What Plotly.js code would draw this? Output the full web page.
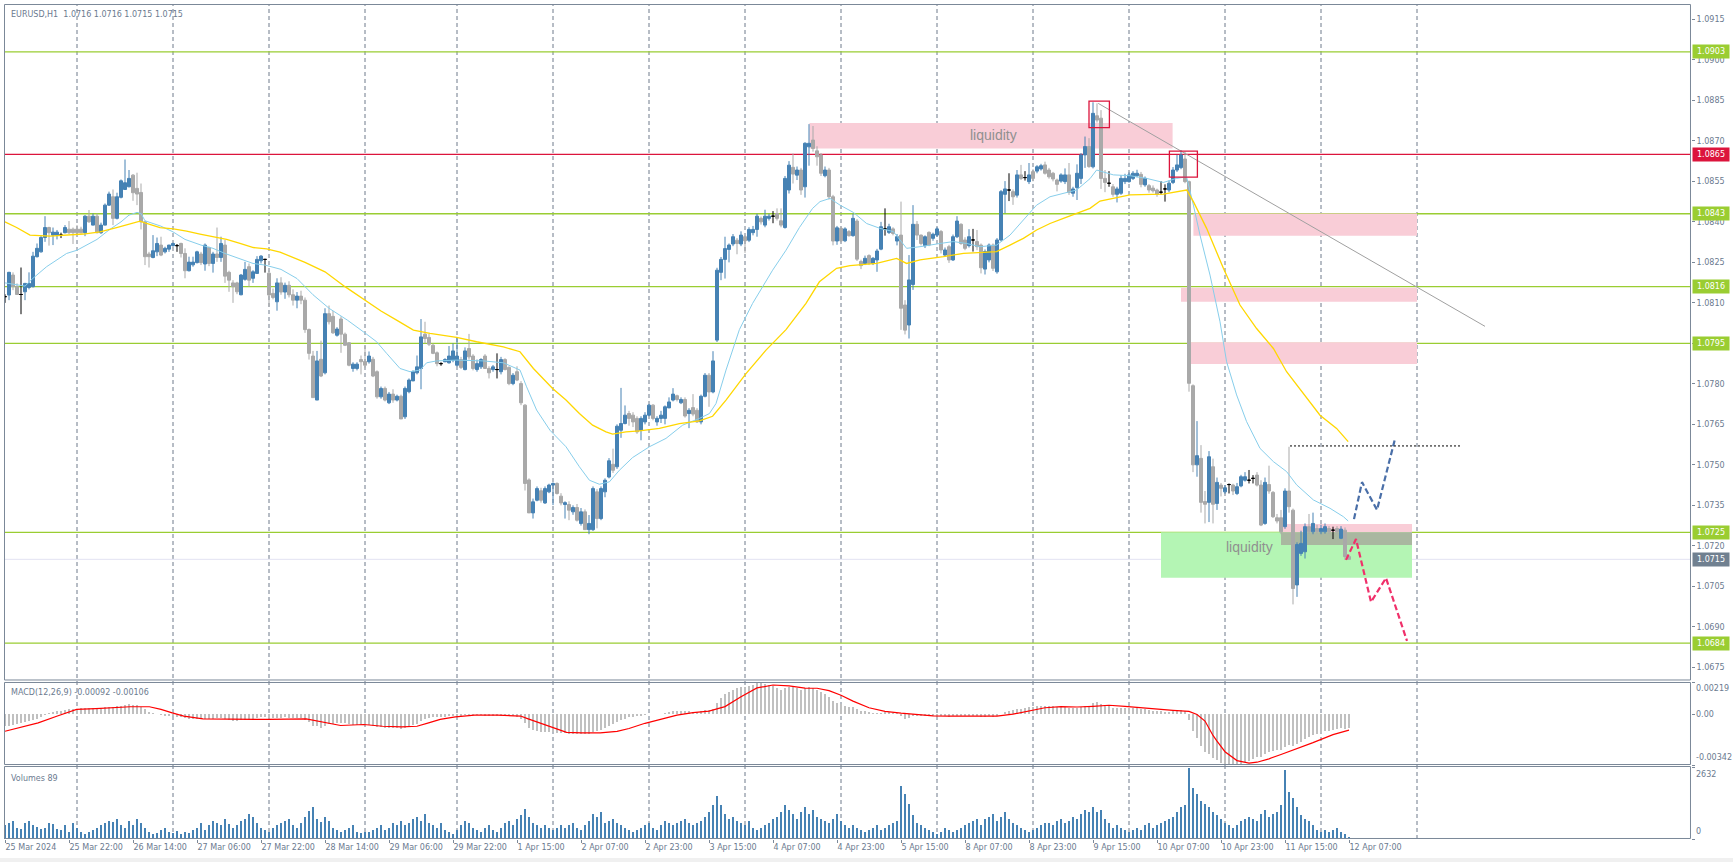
<!DOCTYPE html>
<html><head><meta charset="utf-8">
<script src="https://cdn.plot.ly/plotly-3.0.1.min.js"></script>
<style>html,body{margin:0;padding:0;background:#fff;overflow:hidden}#chart{width:1733px;height:862px}</style>
</head><body><div id="chart"></div>
<script>
// ---------- DATA (EURUSD H1, one entry per bar, bar 0 = 25 Mar 2024 06:00) ----------
const open = [
1.08123,1.08129,1.08203,1.08160,1.08131,1.08141,1.08157,1.08160,1.08271,1.08289,
1.08342,1.08379,1.08351,1.08351,1.08351,1.08360,1.08373,1.08373,1.08373,1.08373,
1.08360,1.08421,1.08388,1.08421,1.08360,1.08388,1.08462,1.08493,1.08413,1.08491,
1.08520,1.08530,1.08573,1.08524,1.08509,1.08400,1.08281,1.08268,1.08289,1.08314,
1.08289,1.08299,1.08312,1.08312,1.08320,1.08283,1.08219,1.08241,1.08249,1.08281,
1.08244,1.08305,1.08246,1.08281,1.08268,1.08314,1.08213,1.08174,1.08174,1.08130,
1.08187,1.08234,1.08191,1.08209,1.08256,1.08261,1.08210,1.08135,1.08104,1.08174,
1.08140,1.08165,1.08130,1.08110,1.08125,1.08110,1.08001,1.07903,1.07740,1.07891,
1.07841,1.08060,1.08050,1.07980,1.08040,1.07984,1.07952,1.07857,1.07857,1.07890,
1.07883,1.07882,1.07891,1.07845,1.07752,1.07783,1.07730,1.07762,1.07740,1.07754,
1.07678,1.07771,1.07811,1.07841,1.07857,1.07984,1.07972,1.07943,1.07915,1.07875,
1.07882,1.07878,1.07888,1.07869,1.07890,1.07853,1.07931,1.07903,1.07853,1.07863,
1.07903,1.07857,1.07853,1.07853,1.07845,1.07890,1.07861,1.07801,1.07845,1.07801,
1.07721,1.07444,1.07322,1.07369,1.07404,1.07359,1.07400,1.07425,1.07431,1.07384,
1.07353,1.07353,1.07326,1.07342,1.07283,1.07326,1.07260,1.07260,1.07400,1.07301,
1.07400,1.07455,1.07502,1.07493,1.07628,1.07653,1.07690,1.07684,1.07672,1.07628,
1.07659,1.07684,1.07721,1.07659,1.07672,1.07672,1.07711,1.07740,1.07756,1.07730,
1.07742,1.07690,1.07712,1.07702,1.07659,1.07754,1.07832,1.07770,1.07962,1.08213,
1.08261,1.08298,1.08318,1.08332,1.08318,1.08345,1.08332,1.08360,1.08372,1.08413,
1.08388,1.08413,1.08421,1.08431,1.08404,1.08379,1.08518,1.08602,1.08573,1.08592,
1.08530,1.08678,1.08703,1.08663,1.08648,1.08571,1.08592,1.08493,1.08329,1.08376,
1.08330,1.08364,1.08349,1.08403,1.08253,1.08246,1.08275,1.08246,1.08259,1.08299,
1.08374,1.08361,1.08374,1.08329,1.08351,1.08092,1.08018,1.08168,1.08391,1.08351,
1.08312,1.08361,1.08339,1.08351,1.08364,1.08277,1.08308,1.08259,1.08345,1.08391,
1.08333,1.08312,1.08333,1.08327,1.08314,1.08225,1.08259,1.08314,1.08215,1.08333,
1.08502,1.08518,1.08512,1.08499,1.08574,1.08564,1.08549,1.08586,1.08588,1.08596,
1.08611,1.08592,1.08580,1.08555,1.08551,1.08549,1.08574,1.08506,1.08527,1.08561,
1.08648,1.08679,1.08604,1.08793,1.08784,1.08561,1.08543,1.08530,1.08502,1.08506,
1.08549,1.08549,1.08561,1.08571,1.08576,1.08537,1.08534,1.08525,1.08518,1.08510,
1.08522,1.08518,1.08546,1.08592,1.08601,1.08633,1.08549,1.07793,1.07500,1.07524,
1.07364,1.07361,1.07493,1.07357,1.07425,1.07400,1.07427,1.07425,1.07394,1.07422,
1.07443,1.07443,1.07450,1.07462,1.07425,1.07283,1.07427,1.07398,1.07304,1.07304,
1.07271,1.07403,1.07332,1.07055,1.07172,1.07178,1.07271,1.07252,1.07264,1.07252,
1.07252,1.07264,1.07258,1.07264,1.07228,1.07258,1.07160];
const high = [
1.08132,1.08215,1.08213,1.08172,1.08231,1.08174,1.08213,1.08289,1.08320,1.08351,
1.08421,1.08382,1.08379,1.08370,1.08360,1.08388,1.08403,1.08379,1.08388,1.08382,
1.08425,1.08444,1.08431,1.08431,1.08397,1.08468,1.08512,1.08520,1.08508,1.08557,
1.08631,1.08592,1.08577,1.08582,1.08542,1.08404,1.08289,1.08351,1.08342,1.08345,
1.08308,1.08315,1.08323,1.08318,1.08323,1.08302,1.08271,1.08271,1.08293,1.08289,
1.08320,1.08308,1.08289,1.08379,1.08345,1.08333,1.08219,1.08184,1.08178,1.08207,
1.08252,1.08246,1.08221,1.08273,1.08277,1.08263,1.08220,1.08153,1.08191,1.08195,
1.08175,1.08180,1.08150,1.08140,1.08145,1.08120,1.08005,1.07922,1.07922,1.07960,
1.08080,1.08090,1.08070,1.08010,1.08050,1.07990,1.07955,1.07880,1.07880,1.07905,
1.07940,1.07920,1.07900,1.07850,1.07790,1.07790,1.07770,1.07780,1.07760,1.07760,
1.07790,1.07820,1.07850,1.07905,1.08040,1.08030,1.07985,1.07950,1.07920,1.07880,
1.07895,1.07940,1.07950,1.07970,1.07900,1.07935,1.07985,1.07910,1.07890,1.07895,
1.07910,1.07865,1.07870,1.07913,1.07900,1.07895,1.07865,1.07840,1.07865,1.07810,
1.07725,1.07450,1.07375,1.07420,1.07415,1.07420,1.07430,1.07435,1.07435,1.07395,
1.07365,1.07365,1.07350,1.07355,1.07340,1.07335,1.07314,1.07420,1.07410,1.07420,
1.07450,1.07525,1.07560,1.07650,1.07785,1.07720,1.07700,1.07695,1.07680,1.07680,
1.07695,1.07725,1.07725,1.07680,1.07700,1.07720,1.07750,1.07784,1.07760,1.07750,
1.07750,1.07710,1.07762,1.07710,1.07760,1.07840,1.07840,1.07921,1.08230,1.08270,
1.08345,1.08320,1.08355,1.08340,1.08365,1.08350,1.08380,1.08385,1.08430,1.08420,
1.08445,1.08430,1.08440,1.08450,1.08450,1.08570,1.08625,1.08653,1.08605,1.08600,
1.08695,1.08762,1.08755,1.08680,1.08655,1.08605,1.08600,1.08500,1.08385,1.08382,
1.08380,1.08370,1.08430,1.08410,1.08260,1.08275,1.08280,1.08270,1.08300,1.08400,
1.08450,1.08393,1.08380,1.08355,1.08475,1.08110,1.08277,1.08462,1.08403,1.08353,
1.08350,1.08365,1.08360,1.08380,1.08370,1.08305,1.08315,1.08353,1.08421,1.08395,
1.08343,1.08373,1.08374,1.08370,1.08320,1.08298,1.08320,1.08320,1.08340,1.08518,
1.08551,1.08580,1.08520,1.08592,1.08611,1.08588,1.08618,1.08595,1.08610,1.08615,
1.08623,1.08600,1.08585,1.08560,1.08580,1.08598,1.08618,1.08530,1.08613,1.08655,
1.08716,1.08710,1.08843,1.08839,1.08814,1.08592,1.08588,1.08540,1.08530,1.08573,
1.08578,1.08583,1.08588,1.08593,1.08585,1.08568,1.08540,1.08535,1.08523,1.08551,
1.08539,1.08553,1.08603,1.08648,1.08666,1.08660,1.08553,1.07798,1.07662,1.07573,
1.07403,1.07551,1.07523,1.07453,1.07433,1.07425,1.07431,1.07430,1.07433,1.07463,
1.07473,1.07481,1.07462,1.07473,1.07443,1.07453,1.07497,1.07403,1.07318,1.07333,
1.07413,1.07567,1.07338,1.07213,1.07256,1.07283,1.07318,1.07323,1.07278,1.07278,
1.07283,1.07273,1.07271,1.07273,1.07273,1.07268,1.07160];
const low = [
1.08100,1.08110,1.08147,1.08129,1.08058,1.08110,1.08150,1.08157,1.08268,1.08286,
1.08326,1.08312,1.08314,1.08335,1.08340,1.08357,1.08355,1.08318,1.08351,1.08357,
1.08347,1.08397,1.08387,1.08357,1.08355,1.08387,1.08459,1.08388,1.08409,1.08487,
1.08518,1.08528,1.08478,1.08462,1.08372,1.08240,1.08231,1.08265,1.08273,1.08273,
1.08283,1.08289,1.08308,1.08289,1.08268,1.08191,1.08216,1.08234,1.08246,1.08240,
1.08219,1.08236,1.08212,1.08252,1.08252,1.08174,1.08141,1.08100,1.08132,1.08128,
1.08182,1.08160,1.08174,1.08207,1.08246,1.08212,1.08086,1.08113,1.08071,1.08130,
1.08115,1.08120,1.08090,1.08080,1.08095,1.07989,1.07890,1.07749,1.07740,1.07825,
1.07835,1.08020,1.07985,1.07975,1.07915,1.07940,1.07865,1.07845,1.07850,1.07835,
1.07860,1.07875,1.07825,1.07745,1.07745,1.07735,1.07725,1.07730,1.07735,1.07670,
1.07670,1.07765,1.07810,1.07835,1.07780,1.07950,1.07940,1.07910,1.07865,1.07867,
1.07880,1.07875,1.07880,1.07865,1.07855,1.07850,1.07890,1.07850,1.07845,1.07855,
1.07855,1.07820,1.07845,1.07820,1.07835,1.07850,1.07795,1.07795,1.07810,1.07721,
1.07405,1.07322,1.07301,1.07365,1.07360,1.07355,1.07395,1.07351,1.07390,1.07350,
1.07301,1.07295,1.07315,1.07290,1.07275,1.07260,1.07243,1.07255,1.07265,1.07295,
1.07380,1.07450,1.07470,1.07485,1.07600,1.07650,1.07645,1.07640,1.07615,1.07591,
1.07650,1.07680,1.07665,1.07645,1.07655,1.07650,1.07710,1.07735,1.07735,1.07725,
1.07675,1.07636,1.07680,1.07655,1.07650,1.07750,1.07715,1.07765,1.07955,1.08184,
1.08190,1.08250,1.08310,1.08280,1.08310,1.08285,1.08325,1.08350,1.08345,1.08390,
1.08380,1.08405,1.08395,1.08405,1.08380,1.08375,1.08505,1.08542,1.08555,1.08500,
1.08490,1.08608,1.08660,1.08608,1.08570,1.08565,1.08483,1.08313,1.08315,1.08325,
1.08325,1.08345,1.08345,1.08255,1.08225,1.08240,1.08240,1.08240,1.08215,1.08295,
1.08349,1.08355,1.08350,1.08313,1.08000,1.07983,1.07968,1.08148,1.08333,1.08313,
1.08303,1.08310,1.08330,1.08345,1.08283,1.08271,1.08248,1.08255,1.08340,1.08315,
1.08295,1.08305,1.08290,1.08295,1.08209,1.08205,1.08250,1.08218,1.08208,1.08328,
1.08432,1.08477,1.08463,1.08490,1.08555,1.08553,1.08540,1.08550,1.08580,1.08590,
1.08575,1.08560,1.08550,1.08513,1.08545,1.08540,1.08500,1.08493,1.08481,1.08540,
1.08600,1.08600,1.08598,1.08768,1.08522,1.08510,1.08530,1.08493,1.08472,1.08500,
1.08540,1.08545,1.08555,1.08565,1.08528,1.08530,1.08508,1.08508,1.08493,1.08502,
1.08475,1.08510,1.08540,1.08585,1.08595,1.08543,1.07771,1.07473,1.07456,1.07323,
1.07283,1.07288,1.07283,1.07333,1.07383,1.07393,1.07394,1.07388,1.07388,1.07417,
1.07438,1.07431,1.07431,1.07420,1.07273,1.07278,1.07393,1.07303,1.07283,1.07243,
1.07263,1.07323,1.06983,1.07011,1.07163,1.07153,1.07245,1.07243,1.07245,1.07243,
1.07245,1.07245,1.07225,1.07245,1.07225,1.07148,1.07150];
const close = [
1.08123,1.08213,1.08160,1.08131,1.08131,1.08172,1.08172,1.08273,1.08302,1.08342,
1.08379,1.08360,1.08362,1.08362,1.08351,1.08379,1.08360,1.08360,1.08360,1.08360,
1.08421,1.08400,1.08421,1.08360,1.08388,1.08462,1.08503,1.08413,1.08493,1.08552,
1.08545,1.08561,1.08508,1.08503,1.08400,1.08271,1.08271,1.08293,1.08320,1.08277,
1.08302,1.08314,1.08320,1.08312,1.08283,1.08219,1.08251,1.08251,1.08289,1.08249,
1.08314,1.08246,1.08281,1.08268,1.08320,1.08199,1.08184,1.08160,1.08141,1.08203,
1.08224,1.08184,1.08215,1.08261,1.08273,1.08261,1.08129,1.08120,1.08174,1.08140,
1.08165,1.08130,1.08110,1.08125,1.08110,1.08001,1.07913,1.07749,1.07885,1.07829,
1.08060,1.08030,1.07989,1.08003,1.07984,1.07943,1.07869,1.07873,1.07873,1.07882,
1.07869,1.07903,1.07829,1.07752,1.07783,1.07740,1.07762,1.07740,1.07754,1.07670,
1.07783,1.07814,1.07845,1.07863,1.07974,1.07968,1.07947,1.07913,1.07875,1.07875,
1.07890,1.07903,1.07922,1.07903,1.07861,1.07922,1.07900,1.07857,1.07875,1.07890,
1.07857,1.07841,1.07863,1.07853,1.07890,1.07853,1.07801,1.07832,1.07814,1.07730,
1.07431,1.07322,1.07363,1.07412,1.07369,1.07412,1.07425,1.07431,1.07394,1.07359,
1.07360,1.07332,1.07342,1.07295,1.07326,1.07260,1.07283,1.07412,1.07301,1.07412,
1.07443,1.07515,1.07480,1.07643,1.07653,1.07684,1.07672,1.07659,1.07622,1.07672,
1.07684,1.07721,1.07672,1.07672,1.07684,1.07715,1.07733,1.07762,1.07742,1.07742,
1.07681,1.07702,1.07688,1.07659,1.07754,1.07832,1.07770,1.07885,1.08221,1.08261,
1.08301,1.08314,1.08345,1.08320,1.08351,1.08330,1.08372,1.08372,1.08421,1.08400,
1.08421,1.08421,1.08421,1.08413,1.08388,1.08561,1.08610,1.08577,1.08592,1.08518,
1.08691,1.08691,1.08672,1.08641,1.08580,1.08592,1.08493,1.08329,1.08378,1.08330,
1.08374,1.08349,1.08413,1.08262,1.08238,1.08265,1.08246,1.08265,1.08292,1.08382,
1.08374,1.08382,1.08357,1.08345,1.08080,1.07999,1.08185,1.08391,1.08351,1.08320,
1.08345,1.08314,1.08354,1.08374,1.08296,1.08296,1.08259,1.08345,1.08403,1.08320,
1.08302,1.08345,1.08333,1.08308,1.08230,1.08290,1.08314,1.08228,1.08333,1.08512,
1.08522,1.08518,1.08493,1.08574,1.08561,1.08564,1.08574,1.08561,1.08604,1.08608,
1.08580,1.08567,1.08559,1.08539,1.08574,1.08574,1.08509,1.08522,1.08580,1.08648,
1.08679,1.08605,1.08802,1.08777,1.08561,1.08546,1.08543,1.08502,1.08522,1.08561,
1.08561,1.08574,1.08580,1.08580,1.08539,1.08561,1.08518,1.08515,1.08502,1.08510,
1.08522,1.08543,1.08592,1.08611,1.08648,1.08549,1.07802,1.07500,1.07534,1.07361,
1.07354,1.07530,1.07354,1.07435,1.07413,1.07415,1.07427,1.07403,1.07419,1.07456,
1.07456,1.07443,1.07450,1.07425,1.07277,1.07435,1.07403,1.07308,1.07292,1.07252,
1.07403,1.07345,1.07042,1.07205,1.07209,1.07271,1.07252,1.07283,1.07252,1.07264,
1.07271,1.07252,1.07258,1.07252,1.07262,1.07160,1.07150];

// moving averages (bar position, price)
const maFastX = [0,5,7,10.4,15.4,18,23,26,29,31,33,34,35,39,42,45,49,52,55,59,62,65,69,73,77,81,85.6,90.4,92.9,95.4,98.75,101.25,103.75,105.4,107.9,112.9,119.6,124.6,128.75,130.4,132.9,136.25,140.25,143.6,146.1,148.6,151.1,153.6,156.9,161.1,165.25,169.4,173.6,176.1,177.75,180.25,183.6,186.9,191.9,195.25,198.6,201.9,203.75,206.25,208.75,212.1,215.4,218.75,222.1,225.4,228.75,233.75,237.1,240.4,243.75,247.9,251.25,254.6,257.9,261.25,264.6,267.9,271.25,272.9,277.1,281.25,285.4,289.6,292.9,295.4,297.1,298.75,301.25,303.75,305.4,307.9,310.4,313.75,317.1,320.4,322.9,327.1,331.25,334.6,335.8];
const maFastY = [1.08174,1.08162,1.08191,1.08234,1.08283,1.08295,1.08335,1.08370,1.08400,1.08425,1.08435,1.08431,1.08404,1.08384,1.08363,1.08335,1.08314,1.08302,1.08283,1.08261,1.08246,1.08240,1.08224,1.08190,1.08130,1.08080,1.08036,1.07984,1.07956,1.07913,1.07857,1.07845,1.07851,1.07878,1.07885,1.07888,1.07885,1.07878,1.07851,1.07789,1.07703,1.07628,1.07567,1.07493,1.07443,1.07428,1.07437,1.07480,1.07527,1.07567,1.07598,1.07647,1.07672,1.07690,1.07727,1.07851,1.08001,1.08098,1.08221,1.08295,1.08379,1.08450,1.08475,1.08487,1.08462,1.08435,1.08394,1.08376,1.08364,1.08302,1.08308,1.08320,1.08327,1.08320,1.08308,1.08314,1.08351,1.08407,1.08462,1.08493,1.08506,1.08518,1.08560,1.08592,1.08574,1.08571,1.08561,1.08546,1.08561,1.08567,1.08462,1.08351,1.08203,1.08030,1.07882,1.07759,1.07660,1.07561,1.07512,1.07475,1.07426,1.07370,1.07339,1.07308,1.07292];
const maSlowX = [0,2.9,6.25,11.25,19.6,23.75,27.9,32.1,33.75,35.4,38.75,42.1,45.4,48.75,52.1,55.4,58.75,62.1,65.4,68.75,75,80,85,90,94,97.9,102.1,106.25,112.9,117.9,124.6,128.75,132.1,136.9,140.25,143.6,146.9,150.25,151.9,155.25,158.6,163.6,168.6,173.6,176.9,180.25,185.25,190.25,195.25,200.25,203.6,207.9,211.25,217.9,222.9,225.4,228.75,234.6,239.6,244.6,247.9,251.25,254.6,257.9,261.25,264.6,267.9,271.25,273.75,281.25,289.6,293.75,295.4,297.1,300.4,304.6,308.75,312.9,317.1,320.4,325.4,328.75,332.9,335.8];
const maSlowY = [1.08400,1.08379,1.08351,1.08347,1.08355,1.08363,1.08379,1.08397,1.08403,1.08394,1.08379,1.08374,1.08366,1.08355,1.08345,1.08335,1.08320,1.08305,1.08300,1.08288,1.08250,1.08215,1.08160,1.08110,1.08070,1.08036,1.07999,1.07987,1.07972,1.07956,1.07937,1.07919,1.07857,1.07783,1.07740,1.07690,1.07647,1.07622,1.07614,1.07622,1.07626,1.07635,1.07653,1.07663,1.07680,1.07740,1.07838,1.07925,1.08001,1.08098,1.08178,1.08228,1.08238,1.08246,1.08265,1.08246,1.08259,1.08271,1.08283,1.08287,1.08290,1.08314,1.08339,1.08370,1.08394,1.08413,1.08432,1.08450,1.08477,1.08500,1.08503,1.08512,1.08518,1.08475,1.08376,1.08228,1.08092,1.08005,1.07931,1.07845,1.07746,1.07684,1.07635,1.07586];

// MACD(12,26,9) main histogram, one value per bar
const macdMain = [
-0.00080,-0.00075,-0.00070,-0.00065,-0.00058,-0.00052,-0.00046,-0.00038,-0.00030,-0.00015,
-0.00002,0.00008,0.00014,0.00020,0.00025,0.00030,0.00034,0.00037,0.00040,0.00042,
0.00044,0.00046,0.00046,0.00045,0.00046,0.00048,0.00052,0.00052,0.00054,0.00060,
0.00066,0.00068,0.00066,0.00062,0.00052,0.00034,0.00018,0.00010,0.00004,-0.00004,
-0.00008,-0.00010,-0.00012,-0.00015,-0.00018,-0.00026,-0.00030,-0.00033,-0.00032,-0.00034,
-0.00028,-0.00030,-0.00028,-0.00026,-0.00022,-0.00028,-0.00035,-0.00042,-0.00045,-0.00040,
-0.00036,-0.00036,-0.00033,-0.00025,-0.00018,-0.00016,-0.00022,-0.00025,-0.00022,-0.00022,
-0.00020,-0.00021,-0.00023,-0.00022,-0.00023,-0.00035,-0.00052,-0.00075,-0.00080,-0.00095,
-0.00078,-0.00065,-0.00062,-0.00058,-0.00058,-0.00060,-0.00066,-0.00070,-0.00072,-0.00072,
-0.00074,-0.00072,-0.00076,-0.00084,-0.00086,-0.00090,-0.00091,-0.00092,-0.00092,-0.00098,
-0.00092,-0.00084,-0.00074,-0.00064,-0.00045,-0.00032,-0.00024,-0.00020,-0.00018,-0.00017,
-0.00015,-0.00012,-0.00010,-0.00009,-0.00010,-0.00006,-0.00005,-0.00007,-0.00007,-0.00006,
-0.00008,-0.00010,-0.00010,-0.00010,-0.00008,-0.00010,-0.00014,-0.00014,-0.00018,-0.00028,
-0.00058,-0.00090,-0.00105,-0.00110,-0.00118,-0.00120,-0.00121,-0.00122,-0.00124,-0.00127,
-0.00128,-0.00130,-0.00130,-0.00132,-0.00130,-0.00133,-0.00132,-0.00118,-0.00115,-0.00102,
-0.00090,-0.00075,-0.00068,-0.00050,-0.00038,-0.00028,-0.00020,-0.00016,-0.00014,-0.00008,
-0.00004,0.00002,0.00002,0.00003,0.00005,0.00010,0.00015,0.00020,0.00022,0.00024,
0.00020,0.00020,0.00018,0.00014,0.00020,0.00030,0.00030,0.00040,0.00080,0.00112,
0.00136,0.00152,0.00168,0.00176,0.00184,0.00186,0.00192,0.00200,0.00219,0.00212,
0.00206,0.00198,0.00190,0.00180,0.00168,0.00176,0.00186,0.00184,0.00180,0.00166,
0.00176,0.00182,0.00176,0.00166,0.00150,0.00136,0.00118,0.00094,0.00080,0.00068,
0.00060,0.00052,0.00050,0.00036,0.00026,0.00020,0.00014,0.00010,0.00008,0.00012,
0.00014,0.00014,0.00012,0.00008,-0.00008,-0.00028,-0.00025,-0.00010,-0.00008,-0.00010,
-0.00010,-0.00012,-0.00010,-0.00008,-0.00012,-0.00014,-0.00018,-0.00014,-0.00008,-0.00010,
-0.00012,-0.00010,-0.00010,-0.00012,-0.00018,-0.00016,-0.00014,-0.00018,-0.00012,0.00005,
0.00018,0.00025,0.00028,0.00036,0.00040,0.00044,0.00048,0.00050,0.00054,0.00058,
0.00058,0.00056,0.00054,0.00050,0.00050,0.00050,0.00044,0.00042,0.00044,0.00052,
0.00060,0.00060,0.00074,0.00082,0.00072,0.00062,0.00055,0.00046,0.00042,0.00042,
0.00042,0.00042,0.00042,0.00042,0.00036,0.00034,0.00030,0.00026,0.00022,0.00020,
0.00018,0.00018,0.00022,0.00026,0.00032,0.00026,-0.00040,-0.00110,-0.00160,-0.00215,
-0.00255,-0.00265,-0.00295,-0.00310,-0.00325,-0.00335,-0.00340,-0.00342,-0.00340,-0.00332,
-0.00322,-0.00312,-0.00300,-0.00288,-0.00288,-0.00268,-0.00255,-0.00248,-0.00242,-0.00238,
-0.00218,-0.00205,-0.00215,-0.00198,-0.00185,-0.00166,-0.00155,-0.00142,-0.00132,-0.00124,
-0.00115,-0.00109,-0.00104,-0.00099,-0.00094,-0.00096,-0.00092];
// signal line (bar position, value)
const macdSignalX = [0,3.5,8.3,13.1,16,17.9,22.7,27.5,31.3,36.1,39,41.8,44.7,49.5,60,65.7,75.3,77.2,81,83.9,89.7,94.4,99.2,103,105.9,108.8,112.6,117.4,123.2,128.9,130.8,134.6,138.5,140.4,144.2,148.8,153,156,160,164,168,172,176,180,184,188,192,196,200,203,206,209,212,216,220,224,228,232,236,240,244,248,252,256,260,264,268,272,276,280,284,288,292,296,298,300,302,303,305,308,311,313,316,319,323,327,332,336];
const macdSignalY = [-0.00114,-0.00091,-0.00057,-0.00011,0.00016,0.00034,0.00039,0.00046,0.00052,0.00052,0.00034,0.00010,-0.00011,-0.00030,-0.00034,-0.00034,-0.00030,-0.00039,-0.00057,-0.00075,-0.00068,-0.00080,-0.00084,-0.00080,-0.00057,-0.00034,-0.00016,-0.00005,-0.00005,-0.00011,-0.00030,-0.00068,-0.00103,-0.00121,-0.00125,-0.00125,-0.00115,-0.00095,-0.00060,-0.00030,-0.00005,0.00012,0.00022,0.00053,0.00120,0.00179,0.00199,0.00193,0.00178,0.00177,0.00161,0.00130,0.00090,0.00045,0.00021,0.00009,-0.00003,-0.00010,-0.00011,-0.00012,-0.00012,-0.00012,0.00002,0.00025,0.00045,0.00053,0.00050,0.00055,0.00062,0.00055,0.00044,0.00036,0.00027,0.00020,0.00000,-0.00045,-0.00142,-0.00180,-0.00252,-0.00312,-0.00329,-0.00323,-0.00300,-0.00271,-0.00232,-0.00191,-0.00137,-0.00106];

// tick volume, one value per bar
const volumes = [
500,580,670,420,380,580,670,500,460,380,
420,580,540,380,330,500,250,580,420,250,
170,250,330,420,500,580,670,630,750,500,
420,670,500,750,580,420,250,170,210,330,
420,250,210,290,170,250,210,330,420,580,
330,500,670,580,500,750,540,420,500,670,
750,920,830,580,420,330,250,420,500,580,
670,750,500,420,580,830,1050,1170,750,630,
830,670,420,330,250,330,420,500,250,210,
250,250,330,420,500,330,420,580,500,670,
500,580,750,830,670,920,580,500,420,580,
330,250,170,330,500,670,580,420,330,250,
420,500,330,250,420,580,670,500,750,900,
1100,830,580,500,420,500,420,330,420,500,
420,500,580,420,330,500,670,920,830,1000,
580,670,750,580,500,420,330,250,330,420,
500,580,420,330,500,670,580,500,580,670,
750,580,500,580,670,830,1000,1250,1590,1250,
920,750,830,670,580,500,670,420,330,420,
500,580,750,830,1000,1250,1090,920,750,1000,
1170,920,1090,830,750,670,580,750,920,670,
500,420,500,420,330,250,330,420,500,330,
420,500,580,670,1950,1650,1300,900,580,500,
420,330,250,170,250,420,330,250,330,420,
500,580,670,750,500,750,830,920,670,830,
1000,750,580,500,420,330,250,330,420,500,
580,580,500,670,750,580,670,830,750,920,
1090,1000,1170,1000,1090,750,580,420,500,420,
330,250,330,420,330,500,580,420,500,580,
670,750,830,1000,1170,1250,2632,1900,1650,1400,
1300,1200,1000,900,750,580,500,420,500,670,
750,830,750,670,920,1090,830,920,1000,1250,
2550,1750,1500,1200,900,750,670,500,330,250,
330,250,330,420,250,170,89];

// scenario paths drawn on the chart (bar position, price)
const bullPathX = [337.25,339.25,343,347.5];
const bullPathY = [1.07299,1.07436,1.07333,1.07596];
const bearPathX = [335.25,337.75,341.5,345.25,350.5];
const bearPathY = [1.07148,1.07225,1.06992,1.07081,1.06848];

// axis labels
const timeTickBars = [0,16,32,48,64,80,96,112,128,144,160,176,192,208,224,240,256,272,288,304,320,336];
const timeTickLabels = ["25 Mar 2024","25 Mar 22:00","26 Mar 14:00","27 Mar 06:00","27 Mar 22:00","28 Mar 14:00","29 Mar 06:00","29 Mar 22:00","1 Apr 15:00","2 Apr 07:00","2 Apr 23:00","3 Apr 15:00","4 Apr 07:00","4 Apr 23:00","5 Apr 15:00","8 Apr 07:00","8 Apr 23:00","9 Apr 15:00","10 Apr 07:00","10 Apr 23:00","11 Apr 15:00","12 Apr 07:00"];
const priceTicks = [1.0675,1.0690,1.0705,1.0720,1.0735,1.0750,1.0765,1.0780,1.0795,1.0810,1.0825,1.0840,1.0855,1.0870,1.0885,1.0900,1.0915];
const daySeparatorBars = [18,42,66,90,113,137,161,185,209,233,257,281,305,329,353];
const greenLevels = [1.0903,1.0843,1.0816,1.0795,1.0725,1.0684];
const redLevel = 1.0865;
const lastPrice = 1.0715;
const macdScale = [0.00219,0,-0.00342];
const macdScaleLabels = ["0.00219","0.00","-0.00342"];
const volumeScale = [0,2632];
const volumeScaleLabels = ["0","2632"];

// ---------- BUILD ----------
const bars = open.map((_, i) => i);
function pick(cond){
  const r = {x:[],open:[],high:[],low:[],close:[]};
  bars.forEach(i => { if (cond(i)) { r.x.push(i); r.open.push(open[i]); r.high.push(high[i]); r.low.push(low[i]); r.close.push(close[i]); } });
  return r;
}
function candle(sub, col){
  return Object.assign({type:'candlestick', xaxis:'x', yaxis:'y', hoverinfo:'skip',
    increasing:{line:{color:col,width:1}, fillcolor:col},
    decreasing:{line:{color:col,width:1}, fillcolor:col}, whiskerwidth:0}, sub);
}
const FONT = 'DejaVu Sans, Verdana, sans-serif';
const AXC = '#6b7a8f';
const FRAME = '#7b8898';

const traces = [
  candle(pick(i => close[i] > open[i]), '#4682b4'),
  candle(pick(i => close[i] < open[i]), '#a9a9a9'),
  candle(pick(i => close[i] === open[i]), '#000000'),
  {type:'scatter', mode:'lines', x:maFastX, y:maFastY, line:{color:'#87ceeb', width:1}, hoverinfo:'skip'},
  {type:'scatter', mode:'lines', x:maSlowX, y:maSlowY, line:{color:'#ffd700', width:1.3}, hoverinfo:'skip'},
  {type:'scatter', mode:'lines', x:bullPathX, y:bullPathY, line:{color:'#4a6fa8', width:2.2, dash:'6px,3px'}, hoverinfo:'skip'},
  {type:'scatter', mode:'lines', x:bearPathX, y:bearPathY, line:{color:'#f0306a', width:2.2, dash:'6px,3px'}, hoverinfo:'skip'},
  {type:'bar', x:bars, y:macdMain, xaxis:'x', yaxis:'y2', marker:{color:'#c0c0c0', line:{width:0}}, width:0.72, hoverinfo:'skip'},
  {type:'scatter', mode:'lines', x:macdSignalX, y:macdSignalY, xaxis:'x', yaxis:'y2', line:{color:'#ff0000', width:1.2}, hoverinfo:'skip'},
  {type:'bar', x:bars, y:volumes, xaxis:'x', yaxis:'y3', marker:{color:'#4682b4', line:{width:0}}, width:0.72, hoverinfo:'skip'}
];

const shapes = [];
function zone(x0,x1,y0,y1,color){ shapes.push({type:'rect', xref:'x', yref:'y', x0, x1, y0, y1, fillcolor:color, line:{width:0}, layer:'below'}); }
zone(201.1, 291.9, 1.08672, 1.08766, '#f9cdd7');
zone(297.1, 353, 1.08349, 1.08431, '#f9cdd7');
zone(294, 353, 1.08104, 1.08156, '#f9cdd7');
zone(296.5, 353, 1.07874, 1.07954, '#f9cdd7');
zone(289, 351.75, 1.07082, 1.0725, '#b4f5b4');
zone(319, 351.75, 1.0725, 1.07281, '#f9cdd7');
zone(319, 351.75, 1.07203, 1.0725, '#a9b7a0');
daySeparatorBars.forEach(b => shapes.push({type:'line', xref:'x', yref:'paper', x0:b, x1:b, y0:0, y1:1, line:{color:'#6f7b8b', width:1, dash:'4px,3px'}, layer:'below'}));
greenLevels.forEach(p => shapes.push({type:'line', xref:'paper', yref:'y', x0:0, x1:1, y0:p, y1:p, line:{color:'#9acd32', width:1.3}, layer:'below'}));
shapes.push({type:'line', xref:'paper', yref:'y', x0:0, x1:1, y0:redLevel, y1:redLevel, line:{color:'#dc143c', width:1.3}, layer:'below'});
shapes.push({type:'line', xref:'paper', yref:'y', x0:0, x1:1, y0:lastPrice, y1:lastPrice, line:{color:'#e2e2f2', width:1}, layer:'below'});
shapes.push({type:'line', xref:'x', yref:'y', x0:273.3, y0:1.08839, x1:370, y1:1.08013, line:{color:'#a0a0a0', width:1}});
shapes.push({type:'rect', xref:'x', yref:'y', x0:271, x1:276.1, y0:1.08749, y1:1.08847, line:{color:'#dc143c', width:1.3}});
shapes.push({type:'rect', xref:'x', yref:'y', x0:291.1, x1:298.1, y0:1.08566, y1:1.08662, line:{color:'#dc143c', width:1.3}});
shapes.push({type:'line', xref:'x', yref:'y', x0:321.25, x1:364.25, y0:1.0757, y1:1.0757, line:{color:'#000000', width:1, dash:'2px,2px'}});
// panel frames, placed on half pixels so that they stay crisp
[[0.19042,0.9994],[0.08922,0.18743],[0.0006,0.08683]].forEach(d => shapes.push({type:'rect', xref:'paper', yref:'paper', x0:0.0003, x1:0.9997, y0:d[0], y1:d[1], line:{color:FRAME, width:1}}));
shapes.push({type:'rect', xref:'paper', yref:'paper', x0:-0.01, x1:1.03, y0:-0.031, y1:-0.0228, fillcolor:'#f0f0f0', line:{width:0}});

const annotations = [];
function priceTag(p, bg){ annotations.push({xref:'paper', yref:'y', x:1, y:p, xanchor:'left', yanchor:'middle', xshift:1, text:p.toFixed(4), showarrow:false, bgcolor:bg, width:34, height:11, borderpad:1, font:{family:FONT, size:8, color:'#ffffff'}}); }
greenLevels.forEach(p => priceTag(p, '#9acd32'));
priceTag(redLevel, '#dc143c');
priceTag(lastPrice, '#708090');
annotations.push({xref:'paper', yref:'paper', x:0, y:1, xanchor:'left', yanchor:'top', xshift:5, yshift:-4, showarrow:false, text:'EURUSD,H1  1.0716 1.0716 1.0715 1.0715', font:{family:FONT, size:8, color:AXC}});
annotations.push({xref:'paper', yref:'paper', x:0, y:0.188, xanchor:'left', yanchor:'top', xshift:5, yshift:-4, showarrow:false, text:'MACD(12,26,9) -0.00092 -0.00106', font:{family:FONT, size:8, color:AXC}});
annotations.push({xref:'paper', yref:'paper', x:0, y:0.0862, xanchor:'left', yanchor:'top', xshift:5, yshift:-5, showarrow:false, text:'Volumes 89', font:{family:FONT, size:8, color:AXC}});
annotations.push({xref:'x', yref:'y', x:247.2, y:1.08721, showarrow:false, text:'liquidity', font:{family:'Liberation Sans, Arial, sans-serif', size:14, color:'#909090'}});
annotations.push({xref:'x', yref:'y', x:311.2, y:1.07197, showarrow:false, text:'liquidity', font:{family:'Liberation Sans, Arial, sans-serif', size:14, color:'#909090'}});
annotations.push({xref:'paper', yref:'paper', x:1, y:0.188, xanchor:'left', yanchor:'top', xshift:3, showarrow:false, text:macdScaleLabels[0], font:{family:FONT, size:8, color:AXC}});
annotations.push({xref:'paper', yref:'y2', x:1, y:macdScale[1], xanchor:'left', yanchor:'middle', xshift:3, showarrow:false, text:macdScaleLabels[1], font:{family:FONT, size:8, color:AXC}});
annotations.push({xref:'paper', yref:'paper', x:1, y:0.0886, xanchor:'left', yanchor:'bottom', xshift:3, yshift:1, showarrow:false, text:macdScaleLabels[2], font:{family:FONT, size:8, color:AXC}});
annotations.push({xref:'paper', yref:'paper', x:1, y:0.0862, xanchor:'left', yanchor:'top', xshift:3, yshift:-1, showarrow:false, text:volumeScaleLabels[1], font:{family:FONT, size:8, color:AXC}});
annotations.push({xref:'paper', yref:'paper', x:1, y:0, xanchor:'left', yanchor:'bottom', xshift:3, yshift:1, showarrow:false, text:volumeScaleLabels[0], font:{family:FONT, size:8, color:AXC}});

const layout = {
  width:1733, height:862, margin:{l:4, r:42, t:4, b:23},
  paper_bgcolor:'#ffffff', plot_bgcolor:'#ffffff', showlegend:false, hovermode:false,
  boxgap:0.25, boxgroupgap:0, bargap:0,
  xaxis:{domain:[0,1], range:[-0.25,421.5], anchor:'y3', tickmode:'array', tickvals:timeTickBars, ticktext:timeTickLabels,
    ticks:'outside', ticklen:3, tickcolor:FRAME, tickangle:0, ticklabelposition:'outside right',
    tickfont:{family:FONT, size:8, color:AXC}, showgrid:false, zeroline:false, showline:false, rangeslider:{visible:false}, fixedrange:true},
  yaxis:{domain:[0.1904,1], range:[1.06703,1.09207], anchor:'x', side:'right', tickmode:'array', tickvals:priceTicks, ticktext:priceTicks.map(v => v.toFixed(4)),
    ticks:'outside', ticklen:3, tickcolor:FRAME, tickfont:{family:FONT, size:8, color:AXC}, showgrid:false, zeroline:false, showline:false, fixedrange:true},
  yaxis2:{domain:[0.0886,0.188], range:[macdScale[2], macdScale[0]], anchor:'x', side:'right', tickmode:'array', tickvals:macdScale, showticklabels:false,
    ticks:'outside', ticklen:3, tickcolor:FRAME, showgrid:false, zeroline:false, showline:false, fixedrange:true},
  yaxis3:{domain:[0,0.0862], range:[0,2660], anchor:'x', side:'right', tickmode:'array', tickvals:volumeScale, showticklabels:false,
    ticks:'outside', ticklen:3, tickcolor:FRAME, showgrid:false, zeroline:false, showline:false, fixedrange:true},
  shapes, annotations
};
Plotly.newPlot('chart', traces, layout, {staticPlot:true, displayModeBar:false});
</script></body></html>
